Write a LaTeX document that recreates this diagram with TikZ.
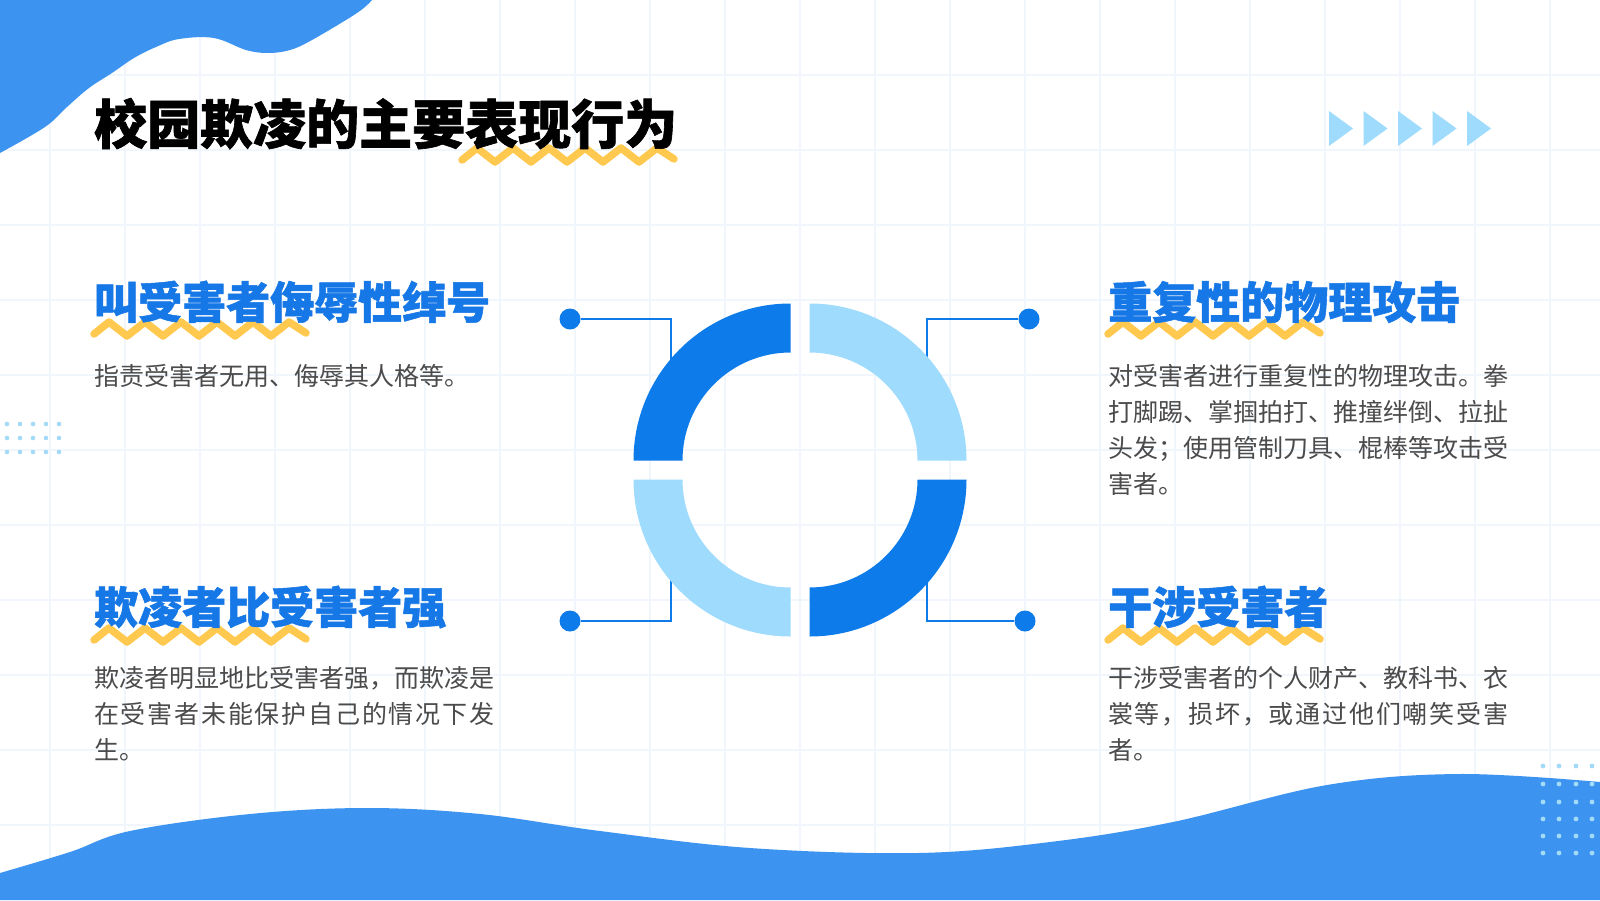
\documentclass[tikz,border=0pt]{standalone}
\usepackage{fontspec}
\setmainfont{Noto Sans CJK SC}
\newfontfamily\heavyfont[BoldFeatures={FakeBold=1.2}]{Noto Sans CJK SC}
\definecolor{wave}{HTML}{3D94F0}
\definecolor{darkring}{HTML}{0E7BEB}
\definecolor{lightring}{HTML}{9EDBFD}
\definecolor{headblue}{HTML}{1677E6}
\definecolor{zzyellow}{HTML}{FFC94F}
\definecolor{txtgray}{HTML}{4B4B4B}
\definecolor{gridc}{HTML}{F1F5FC}
\definecolor{dotc}{HTML}{A3DAF8}
\def\sprA#1{#1\sprB}
\def\sprB#1{\ifx\relax#1\else\hfil#1\expandafter\sprB\fi}
\newcommand\jl[1]{\hbox to 400pt{\sprA#1\relax}}
\begin{document}
\begin{tikzpicture}[x=1pt,y=-1pt,
  gridline/.style={draw=gridc,line width=1.5pt},
  conn/.style={draw=darkring,line width=2.2pt},
  bigdot/.style={circle,fill=darkring,minimum size=21pt,inner sep=0pt},
  zz/.style={draw=zzyellow,line width=7.5pt,line cap=round,line join=round},
  ttl/.style={anchor=base west,inner sep=0pt,font=\heavyfont\bfseries\fontsize{53}{53}\selectfont,text=black},
  head/.style={anchor=base west,inner sep=0pt,font=\heavyfont\bfseries\fontsize{44}{44}\selectfont,text=headblue},
  desc/.style={anchor=base west,inner sep=0pt,font=\fontsize{25}{36}\selectfont,text=txtgray},
  zigzag/.pic={\draw[zz] (0,5) -- (15,-7) -- (33,7) -- (51,-7) -- (69,7) -- (87,-7) -- (105,7) -- (123,-7) -- (141,7) -- (159,-7) -- (177,7) -- (195,-7) -- (212,4);}
]
\useasboundingbox (0,0) rectangle (1600,900);
\fill[white] (0,0) rectangle (1600,900);
% grid
\foreach \i in {0,...,20} \draw[gridline] (50+75*\i,0) -- (50+75*\i,900);
\foreach \j in {1,...,11} \draw[gridline] (0,75*\j) -- (1600,75*\j);
% top-left blob
\fill[wave] (0,0) -- plot[smooth,tension=0.6] coordinates {(372,0) (357,13) (312,40) (290,50) (268,53) (246,50) (214,38) (179,39) (156,47) (134,58) (112,73) (89,88) (67,107) (45,127) (0,153)} -- cycle;
% bottom wave
\fill[wave] (0,900) -- plot[smooth,tension=0.6] coordinates {(0,873) (70,852) (130,831) (250,814) (367,808) (480,814) (600,831) (750,848) (918,853) (1050,842) (1173,822) (1327,785) (1459,774) (1600,782)} -- (1600,900) -- cycle;
% dot grids
\foreach \x in {7,20,33,46,59} \foreach \y in {424,438,452} \fill[dotc] (\x,\y) circle[radius=2.3pt];
\foreach \x in {1543,1559,1576,1592} \foreach \y in {766,784,802,819,836,853} \fill[dotc] (\x,\y) circle[radius=2.4pt];
% arrows
\foreach \i in {0,...,4} \fill[lightring] (1329+34.5*\i,111) -- (1353+34.5*\i,128.5) -- (1329+34.5*\i,146) -- cycle;
% connectors
\node[bigdot] (d1) at (570,319) {};
\node[bigdot] (d2) at (1029,319) {};
\node[bigdot] (d3) at (570,621) {};
\node[bigdot] (d4) at (1025,621) {};
\coordinate (k1) at (671,319); \coordinate (e1) at (671,363);
\coordinate (k2) at (927,319); \coordinate (e2) at (927,362);
\coordinate (k3) at (671,621); \coordinate (e3) at (671,578);
\coordinate (k4) at (927,621); \coordinate (e4) at (927,578);
\draw[conn] (d1) -- (k1) -- (e1);
\draw[conn] (d2) -- (k2) -- (e2);
\draw[conn] (d3) -- (k3) -- (e3);
\draw[conn] (d4) -- (k4) -- (e4);
% ring
\fill[darkring] (790.5,303.5) arc[start angle=90,end angle=180,radius=157pt] -- (682.5,460.5) arc[start angle=180,end angle=90,radius=108pt] -- cycle;
\fill[lightring] (809.5,303.5) arc[start angle=90,end angle=0,radius=157pt] -- (917.5,460.5) arc[start angle=0,end angle=90,radius=108pt] -- cycle;
\fill[lightring] (790.5,636.5) arc[start angle=270,end angle=180,radius=157pt] -- (682.5,479.5) arc[start angle=180,end angle=270,radius=108pt] -- cycle;
\fill[darkring] (809.5,636.5) arc[start angle=270,end angle=360,radius=157pt] -- (917.5,479.5) arc[start angle=360,end angle=270,radius=108pt] -- cycle;
% zigzags
\pic at (462,155) {zigzag};
\pic at (94,329) {zigzag};
\pic at (1108,329) {zigzag};
\pic at (94,635) {zigzag};
\pic at (1108,635) {zigzag};
% title
\node[ttl] (title) at (94,144) {校园欺凌的主要表现行为};
% headings
\node[head] (h1) at (94,318.7) {叫受害者侮辱性绰号};
\node[head] (h2) at (1108,318.7) {重复性的物理攻击};
\node[head] (h3) at (94,623.7) {欺凌者比受害者强};
\node[head] (h4) at (1108,623.7) {干涉受害者};
% descriptions
\node[desc] (p1) at (94,385.5) {指责受害者无用、侮辱其人格等。};
\node[desc] (p2a) at (1108,385.5) {\jl{对受害者进行重复性的物理攻击。拳}};
\node[desc] (p2b) at (1108,421.5) {\jl{打脚踢、掌掴拍打、推撞绊倒、拉扯}};
\node[desc] (p2c) at (1108,457.5) {\jl{头发；使用管制刀具、棍棒等攻击受}};
\node[desc] (p2d) at (1108,493.5) {害者。};
\node[desc] (p3a) at (94,687.5) {\jl{欺凌者明显地比受害者强，而欺凌是}};
\node[desc] (p3b) at (94,723.5) {\jl{在受害者未能保护自己的情况下发}};
\node[desc] (p3c) at (94,759.5) {生。};
\node[desc] (p4a) at (1108,687.5) {\jl{干涉受害者的个人财产、教科书、衣}};
\node[desc] (p4b) at (1108,723.5) {\jl{裳等，损坏，或通过他们嘲笑受害}};
\node[desc] (p4c) at (1108,759.5) {者。};
\end{tikzpicture}
\end{document}
